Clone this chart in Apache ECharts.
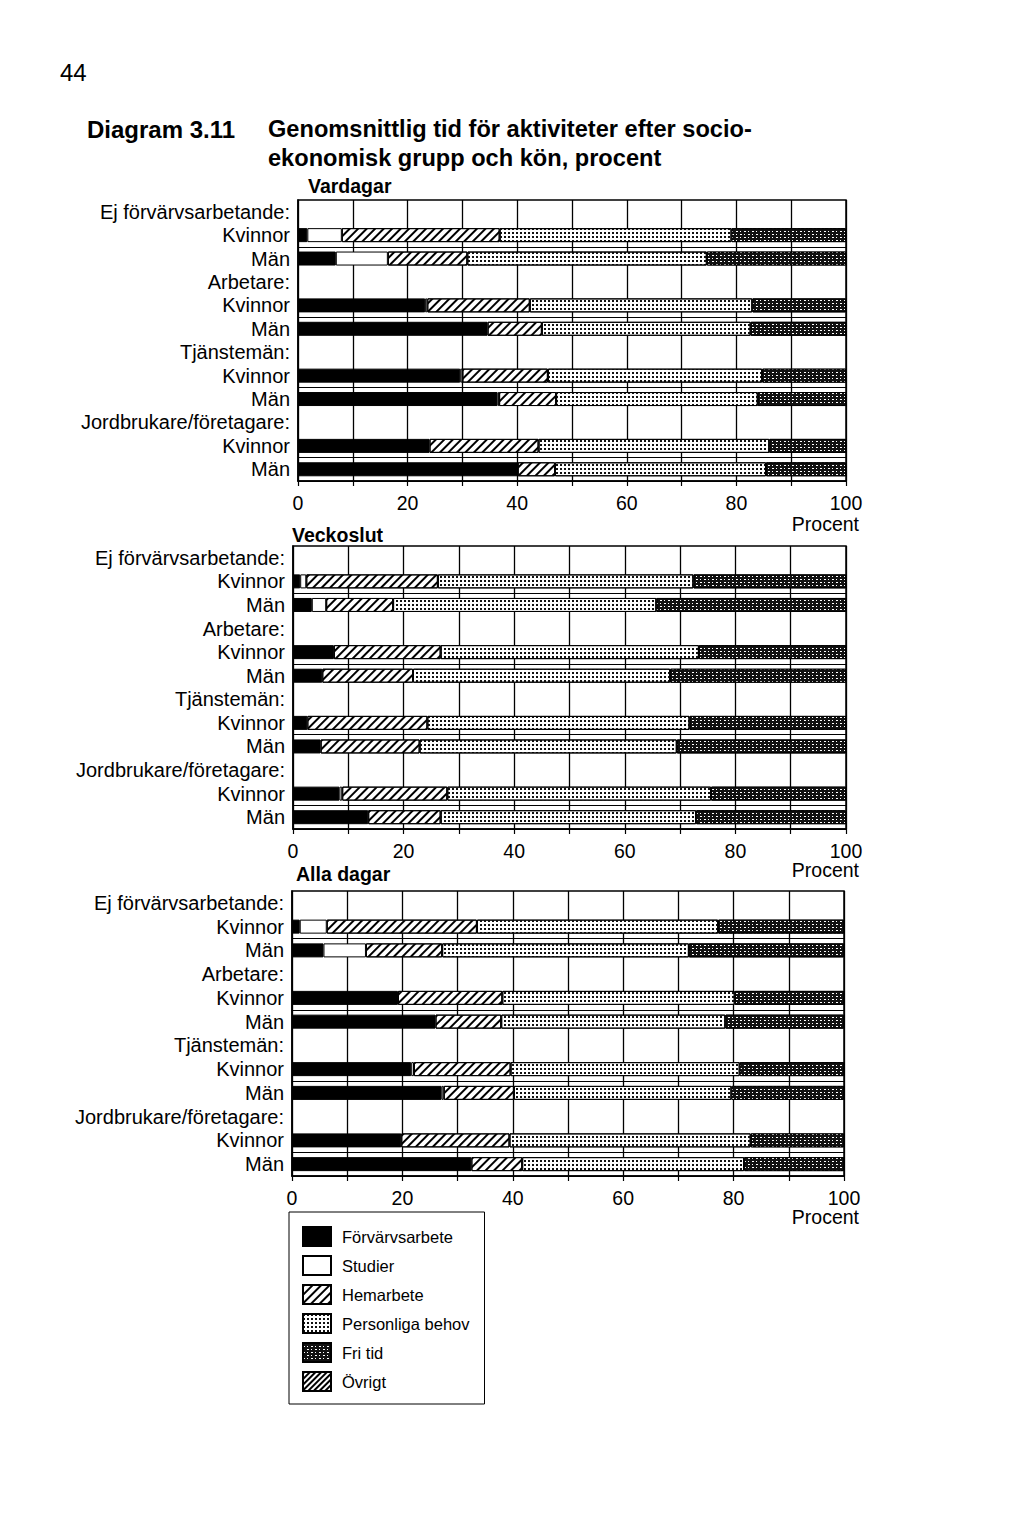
<!DOCTYPE html>
<html>
<head>
<meta charset="utf-8">
<script src="https://cdn.jsdelivr.net/npm/echarts@6/dist/echarts.min.js"></script>
<style>
html,body{margin:0;padding:0;background:#fff;}
#chart{width:1024px;height:1522px;}
</style>
</head>
<body>
<div id="chart"></div>
<script>
// ---- data ----
const categories = ['Ej förvärvsarbetande:', 'Kvinnor', 'Män', 'Arbetare:', 'Kvinnor', 'Män',
  'Tjänstemän:', 'Kvinnor', 'Män', 'Jordbrukare/företagare:', 'Kvinnor', 'Män'];
const seriesNames = ['Förvärvsarbete', 'Studier', 'Hemarbete', 'Personliga behov', 'Fri tid', 'Övrigt'];
const panelTitles = ['Vardagar', 'Veckoslut', 'Alla dagar'];
const xTicks = [0, 20, 40, 60, 80, 100];

// rows: Ej förv. K, Ej förv. M, Arbetare K, Arbetare M, Tjänstemän K, Tjänstemän M, Jordbr. K, Jordbr. M
const forvVardagar   = [1.7, 6.9, 23.2, 34.6, 29.6, 36.4, 24.0, 40.1];
const studVardagar   = [6.3, 9.5, 0.4, 0, 0.4, 0.3, 0, 0];
const hemVardagar    = [28.8, 14.5, 18.7, 9.9, 15.6, 10.4, 19.9, 6.8];
const persVardagar   = [42.3, 43.7, 40.6, 38.1, 39.1, 36.8, 42.1, 38.5];
const friVardagar    = [20.9, 25.4, 17.1, 17.4, 15.3, 16.1, 14.0, 14.6];
const ovrVardagar    = [0, 0, 0, 0, 0, 0, 0, 0];

const forvVeckoslut  = [1.3, 3.4, 7.4, 5.3, 2.6, 5.0, 8.4, 13.6];
const studVeckoslut  = [1.1, 2.6, 0, 0, 0, 0, 0.5, 0];
const hemVeckoslut   = [23.8, 12.1, 19.3, 16.4, 21.7, 17.9, 19.0, 13.1];
const persVeckoslut  = [46.2, 47.6, 46.7, 46.5, 47.4, 46.5, 47.7, 46.2];
const friVeckoslut   = [27.6, 34.3, 26.6, 31.8, 28.3, 30.6, 24.4, 27.1];
const ovrVeckoslut   = [0, 0, 0, 0, 0, 0, 0, 0];

const forvAlla       = [1.4, 5.7, 19.2, 26.0, 21.6, 27.1, 19.8, 32.5];
const studAlla       = [4.9, 7.7, 0, 0, 0.5, 0.4, 0, 0];
const hemAlla        = [27.2, 13.8, 18.9, 11.9, 17.5, 12.7, 19.6, 9.2];
const persAlla       = [43.7, 44.7, 42.1, 40.6, 41.5, 39.4, 43.7, 40.2];
const friAlla        = [22.8, 28.1, 19.8, 21.5, 18.9, 20.4, 16.9, 18.1];
const ovrAlla        = [0, 0, 0, 0, 0, 0, 0, 0];

const panels = [
  [forvVardagar, studVardagar, hemVardagar, persVardagar, friVardagar, ovrVardagar],
  [forvVeckoslut, studVeckoslut, hemVeckoslut, persVeckoslut, friVeckoslut, ovrVeckoslut],
  [forvAlla, studAlla, hemAlla, persAlla, friAlla, ovrAlla]
];

// ---- styles ----
const FONT = '"Liberation Sans", Arial, Helvetica, sans-serif';
const grids = [
  {left: 298, top: 200, width: 548, height: 281},
  {left: 293, top: 546, width: 553, height: 283},
  {left: 292, top: 891, width: 552, height: 285}
];
const itemStyles = [
  {color: '#000', borderColor: '#000', borderWidth: 1},
  {color: '#fff', borderColor: '#000', borderWidth: 1},
  {color: '#fff', borderColor: '#000', borderWidth: 1,
    decal: {symbol: 'rect', symbolSize: 1, color: '#000', dashArrayX: [1, 0], dashArrayY: [1.6, 3.6], rotation: -Math.PI / 4}},
  {color: '#fff', borderColor: '#000', borderWidth: 1,
    decal: {symbol: 'rect', symbolSize: 1, color: '#111', dashArrayX: [1.2, 2], dashArrayY: [1.2, 2], rotation: 0}},
  {color: '#111', borderColor: '#000', borderWidth: 1,
    decal: {symbol: 'rect', symbolSize: 1, color: '#fff', dashArrayX: [[2, 2, 1, 3], [1, 3, 2, 2]], dashArrayY: [1, 1.4], rotation: 0}},
  {color: '#fff', borderColor: '#000', borderWidth: 1,
    decal: {symbol: 'rect', symbolSize: 1, color: '#000', dashArrayX: [1, 0], dashArrayY: [1.2, 1.6], rotation: -Math.PI / 4}}
];

function expand(arr) {
  const out = [];
  for (let g = 0; g < 4; g++) {
    out.push('-');
    out.push(arr[g * 2] === 0 ? '-' : arr[g * 2]);
    out.push(arr[g * 2 + 1] === 0 ? '-' : arr[g * 2 + 1]);
  }
  return out;
}

const xAxes = [], yAxes = [], series = [], graphics = [];
const titleY = [187, 536, 875];
const titleX = [308, 292, 296];
const procentY = [525, 871, 1218];
grids.forEach((g, p) => {
  xAxes.push({
    type: 'value', gridIndex: p, min: 0, max: 100, interval: 10,
    axisLine: {show: true, lineStyle: {color: '#000', width: 1.5}},
    axisTick: {show: true, length: 5, lineStyle: {color: '#000', width: 1.2}},
    splitLine: {show: true, lineStyle: {color: '#000', width: 1.3}},
    axisLabel: {color: '#000', fontSize: 19.5, fontFamily: FONT, margin: 12,
      formatter: v => (xTicks.indexOf(v) >= 0 ? String(v) : '')}
  });
  yAxes.push({
    type: 'category', gridIndex: p, data: categories, inverse: true,
    axisLine: {show: true, lineStyle: {color: '#000', width: 1.5}},
    axisTick: {show: false},
    splitLine: {show: true, interval: (i) => (i === 2 || i === 5 || i === 8 || i === 11),
      lineStyle: {color: '#000', width: 1.2}},
    axisLabel: {color: '#000', fontSize: 20, fontFamily: FONT, margin: 8, interval: 0}
  });
  panels[p].forEach((arr, s) => {
    series.push({
      type: 'bar', name: seriesNames[s], stack: 'panel' + p,
      xAxisIndex: p, yAxisIndex: p, barWidth: 14,
      data: expand(arr), itemStyle: itemStyles[s], silent: true
    });
  });
  graphics.push({type: 'text', left: titleX[p], top: titleY[p] - 11,
    style: {text: panelTitles[p], font: 'bold 19.5px ' + FONT, fill: '#000'}});
  graphics.push({type: 'text', right: 1024 - 859, top: procentY[p] - 11,
    style: {text: 'Procent', font: '19.5px ' + FONT, fill: '#000'}});
});

graphics.push({type: 'text', left: 60, top: 60, style: {text: '44', font: '24px ' + FONT, fill: '#000'}});
graphics.push({type: 'text', left: 87, top: 117, style: {text: 'Diagram 3.11', font: 'bold 24px ' + FONT, fill: '#000'}});
graphics.push({type: 'text', left: 268, top: 117, style: {text: 'Genomsnittlig tid för aktiviteter efter socio-', font: 'bold 23.6px ' + FONT, fill: '#000'}});
graphics.push({type: 'text', left: 268, top: 146, style: {text: 'ekonomisk grupp och kön, procent', font: 'bold 23.6px ' + FONT, fill: '#000'}});

const chart = echarts.init(document.getElementById('chart'), null, {renderer: 'svg', width: 1024, height: 1522});
chart.setOption({
  animation: false,
  backgroundColor: '#fff',
  textStyle: {fontFamily: FONT},
  grid: grids.map(g => Object.assign({show: true, borderColor: '#000', borderWidth: 1.5, backgroundColor: 'transparent'}, g)),
  xAxis: xAxes,
  yAxis: yAxes,
  legend: {
    data: seriesNames, orient: 'vertical', left: 289, top: 1212,
    padding: [14, 15, 12, 13], itemWidth: 28, itemHeight: 19, itemGap: 8,
    icon: 'rect', borderColor: '#000', borderWidth: 1, selectedMode: false,
    textStyle: {color: '#000', fontSize: 16.5, fontFamily: FONT, padding: [0, 0, 0, 6]}
  },
  graphic: graphics,
  series: series
});
</script>
</body>
</html>
